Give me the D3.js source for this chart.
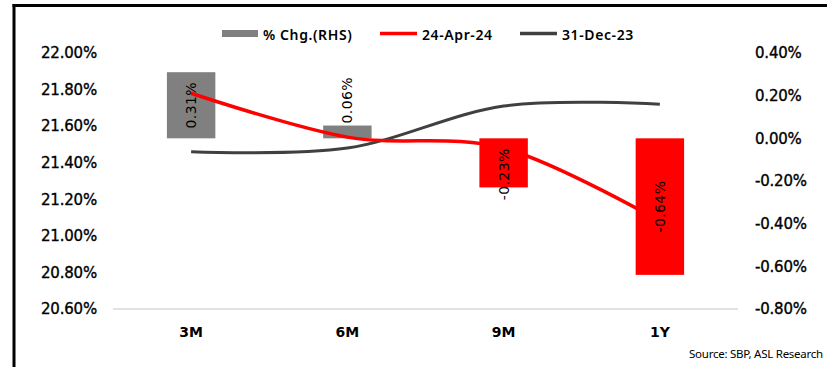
<!DOCTYPE html>
<html><head><meta charset="utf-8">
<script src="https://cdn.jsdelivr.net/npm/d3@7"></script>
<style>
html,body{margin:0;padding:0;background:#fff;}
svg{display:block;font-family:"DejaVu Sans",sans-serif;}
</style></head>
<body>
<svg id="chart" width="827" height="367"></svg>
<script>
const categories = ["3M", "6M", "9M", "1Y"];
const chg = [0.31, 0.06, -0.23, -0.64];          // % Chg.(RHS)
const apr24 = [21.78, 21.54, 21.48, 21.08];       // 24-Apr-24
const dec23 = [21.46, 21.48, 21.71, 21.72];       // 31-Dec-23
const leftTicks = [20.6, 20.8, 21.0, 21.2, 21.4, 21.6, 21.8, 22.0];
const rightTicks = [-0.8, -0.6, -0.4, -0.2, 0, 0.2, 0.4];
const seriesNames = ["% Chg.(RHS)", "24-Apr-24", "31-Dec-23"];
const sourceText = "Source: SBP, ASL Research";

const svg = d3.select("#chart");
const W = 827, H = 367;
const plot = {left: 113, right: 738, top: 53, bottom: 309};

const x = d3.scaleBand().domain(categories).range([plot.left, plot.right])
  .paddingInner(0.69).paddingOuter(0.345);
const yL = d3.scaleLinear().domain([20.6, 22.0]).range([plot.bottom, plot.top]);
const yR = d3.scaleLinear().domain([-0.8, 0.4]).range([plot.bottom, plot.top]);
const cx = c => x(c) + x.bandwidth() / 2;

// frame
svg.append("line").attr("x1", 14).attr("x2", 14).attr("y1", 4).attr("y2", H)
  .attr("stroke", "#000").attr("stroke-width", 3);
svg.append("line").attr("x1", 12.5).attr("x2", W).attr("y1", 5.5).attr("y2", 5.5)
  .attr("stroke", "#000").attr("stroke-width", 3);

function styleTick(sel) {
  sel.attr("font-size", 15).attr("font-family", "DejaVu Sans").attr("fill", "#000")
    .attr("stroke", "#000").attr("stroke-width", 0.35).attr("letter-spacing", "-0.2px");
}

// left axis
const axL = svg.append("g").attr("transform", `translate(${plot.left - 16},0)`)
  .call(d3.axisLeft(yL).tickValues(leftTicks).tickSize(0).tickPadding(0)
    .tickFormat(d => d.toFixed(2) + "%"));
axL.select(".domain").remove();
styleTick(axL.selectAll("text"));

// right axis
const axR = svg.append("g").attr("transform", `translate(${plot.right + 17},0)`)
  .call(d3.axisRight(yR).tickValues(rightTicks).tickSize(0).tickPadding(0)
    .tickFormat(d => (Math.abs(d) < 1e-9 ? 0 : d).toFixed(2) + "%"));
axR.select(".domain").remove();
styleTick(axR.selectAll("text"));

// baseline
svg.append("line").attr("x1", plot.left).attr("x2", plot.right)
  .attr("y1", plot.bottom).attr("y2", plot.bottom)
  .attr("stroke", "#d9d9d9").attr("stroke-width", 1.5);

// category axis
const axX = svg.append("g").attr("transform", `translate(0,${plot.bottom + 18})`)
  .call(d3.axisBottom(x).tickSize(0).tickPadding(0));
axX.select(".domain").remove();
axX.selectAll("text").attr("font-size", 14).attr("font-family", "DejaVu Sans")
  .attr("font-weight", 600).attr("fill", "#000");

// bars
const barData = categories.map((c, i) => ({c, v: chg[i]}));
svg.append("g").selectAll("rect").data(barData).join("rect")
  .attr("x", d => x(d.c)).attr("width", x.bandwidth())
  .attr("y", d => Math.min(yR(d.v), yR(0)))
  .attr("height", d => Math.abs(yR(d.v) - yR(0)))
  .attr("fill", d => d.v >= 0 ? "#808080" : "#ff0000");

// lines
const lineGen = yS => d3.line().x((d, i) => cx(categories[i])).y(d => yS(d))
  .curve(d3.curveCardinal.tension(0));
svg.append("path").datum(dec23).attr("d", lineGen(yL))
  .attr("fill", "none").attr("stroke", "#404040").attr("stroke-width", 3);
svg.append("path").datum(apr24).attr("d", lineGen(yL))
  .attr("fill", "none").attr("stroke", "#ff0000").attr("stroke-width", 3.5);

// data labels (rotated)
const lblG = svg.append("g");
barData.forEach(d => {
  const t = lblG.append("text").attr("font-size", 14).attr("font-family", "DejaVu Sans")
    .attr("fill", "#000").attr("letter-spacing", "0.4px")
    .attr("text-anchor", "middle").attr("dominant-baseline", "central")
    .text(d.v.toFixed(2) + "%");
  const len = t.node().getComputedTextLength();
  const half = len / 2;
  const top = Math.min(yR(d.v), yR(0)), bot = Math.max(yR(d.v), yR(0));
  let cy = (top + bot) / 2;
  if (len + 6 > bot - top) {
    cy = d.v >= 0 ? top - 2 - half : yR(0) + 10 + half;
  }
  t.attr("transform", `translate(${cx(d.c)},${cy}) rotate(-90)`);
});

// legend
const lg = svg.append("g").attr("font-size", 14).attr("font-weight", 600)
  .attr("font-family", "Noto Sans").attr("letter-spacing", "0.6px");
lg.append("rect").attr("x", 222).attr("y", 30).attr("width", 36).attr("height", 7).attr("fill", "#808080");
lg.append("text").attr("x", 263).attr("y", 34).attr("dominant-baseline", "central").text(seriesNames[0]);
lg.append("line").attr("x1", 380).attr("x2", 417).attr("y1", 33.5).attr("y2", 33.5)
  .attr("stroke", "#ff0000").attr("stroke-width", 3.5);
lg.append("text").attr("x", 422).attr("y", 34).attr("dominant-baseline", "central").text(seriesNames[1]);
lg.append("line").attr("x1", 520).attr("x2", 557).attr("y1", 33.5).attr("y2", 33.5)
  .attr("stroke", "#404040").attr("stroke-width", 3.5);
lg.append("text").attr("x", 562).attr("y", 34).attr("dominant-baseline", "central").text(seriesNames[2]);

// source
svg.append("text").attr("x", 689).attr("y", 358).attr("font-size", 11.5)
  .attr("font-family", "Noto Sans").attr("letter-spacing", "-0.25px")
  .attr("fill", "#000").text(sourceText);
</script>
</body></html>
